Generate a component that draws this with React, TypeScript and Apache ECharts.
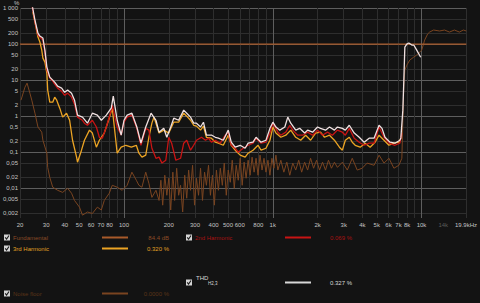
import React, { useEffect, useRef } from "react";
import * as echarts from "echarts";

// ---- axis ticks / labels ----
const xLabelValues = [20, 30, 40, 50, 60, 70, 80, 100, 200, 300, 400, 500, 600, 800, 1000, 2000, 3000, 4000, 5000, 6000, 7000, 8000, 10000, 14000, 19900];
const xLabelTexts = ["20", "30", "40", "50", "60", "70", "80", "100", "200", "300", "400", "500", "600", "800", "1k", "2k", "3k", "4k", "5k", "6k", "7k", "8k", "10k", "14k", "19.9kHz"];
const xMinorGrid = [20, 30, 40, 50, 60, 70, 80, 90, 200, 300, 400, 500, 600, 700, 800, 900, 2000, 3000, 4000, 5000, 6000, 7000, 8000, 9000, 20000];
const xMajorGrid = [100, 1000, 10000];
const yLabelValues = [1000, 500, 200, 100, 50, 20, 10, 5, 2, 1, 0.5, 0.2, 0.1, 0.05, 0.02, 0.01, 0.005, 0.002];
const yLabelTexts = ["1 000", "500", "200", "100", "50", "20", "10", "5", "2", "1", "0,5", "0,2", "0,1", "0,05", "0,02", "0,01", "0,005", "0,002"];
const yMinorGrid = [500, 200, 50, 20, 5, 2, 0.5, 0.2, 0.05, 0.02, 0.005, 0.002];
const yMajorGrid = [1000, 100, 10, 1, 0.1, 0.01];

// ---- series (frequency Hz, %) ----
const fundamentalData: [number, number][] = [[20, 100], [20000, 100]];

const thdData: [number, number][] = [
  [24.0, 1400], [24.4, 938], [25.2, 464], [26.4, 202], [27.2, 167], [28.5, 147], [29.4, 68], [30.3, 23], [31.7, 12.1], [33.2, 10],
  [34.2, 8.8], [35.8, 6.8], [38.1, 6.0], [39.9, 4.6], [41.8, 5.3], [44.4, 4.35], [46.5, 2.78], [48.7, 1.07], [52.6, 0.94], [56.8, 0.64],
  [61.3, 1.21], [66.2, 1.07], [70.4, 0.77], [76.0, 1.07], [82.1, 1.67], [84.7, 3.6], [90.0, 0.77], [95.7, 0.30], [100, 0.77], [105, 1.07],
  [113, 1.21], [122, 0.50], [130, 0.18], [140, 0.50], [152, 1.21], [164, 0.77], [172, 0.36], [185, 0.46], [194, 0.26], [206, 0.50],
  [216, 0.88], [233, 0.77], [252, 1.47], [264, 1.21], [280, 0.94], [294, 0.64], [307, 0.64], [327, 0.50], [342, 0.68], [358, 0.30],
  [387, 0.30], [411, 0.26], [431, 0.245], [465, 0.215], [502, 0.41], [526, 0.19], [559, 0.138], [604, 0.156], [652, 0.129], [683, 0.178],
  [737, 0.19], [772, 0.26], [834, 0.19], [900, 0.215], [957, 0.46], [1002, 0.68], [1050, 0.50], [1116, 0.41], [1205, 0.50], [1262, 0.94],
  [1321, 0.64], [1427, 0.41], [1517, 0.46], [1638, 0.34], [1715, 0.41], [1852, 0.36], [2000, 0.50], [2094, 0.46], [2262, 0.41], [2405, 0.50],
  [2597, 0.41], [2720, 0.50], [2937, 0.46], [3074, 0.41], [3268, 0.56], [3529, 0.34], [3811, 0.26], [4113, 0.19], [4443, 0.245], [4797, 0.245],
  [5181, 0.56], [5424, 0.46], [5680, 0.26], [6134, 0.19], [6622, 0.178], [7152, 0.215], [7262, 0.25], [7488, 1.47], [7604, 10], [7722, 82],
  [7962, 100], [8212, 107], [8603, 94], [8868, 94], [9283, 68], [9868, 43]
];

const h2Data: [number, number][] = [
  [24.0, 1210], [24.4, 880], [25.2, 408], [26.4, 178], [27.2, 156], [28.5, 129], [29.4, 60], [30.3, 19], [31.7, 11.4], [33.2, 9.4],
  [34.2, 7.7], [35.8, 6.0], [38.1, 4.9], [39.9, 3.8], [41.8, 4.35], [44.4, 3.37], [46.5, 2.15], [48.7, 0.94], [52.6, 0.77], [54.2, 0.64],
  [56.8, 0.56], [61.3, 0.77], [65.2, 0.50], [68.3, 0.26], [71.5, 0.245], [76.0, 0.50], [82.1, 1.47], [83.4, 2.02], [90.0, 0.50], [95.7, 0.30],
  [100, 0.68], [105, 0.94], [113, 1.07], [122, 0.46], [130, 0.156], [140, 0.46], [147, 0.41], [154, 0.129], [164, 0.068], [172, 0.073],
  [180, 0.050], [191, 0.060], [200, 0.26], [209, 0.178], [223, 0.060], [240, 0.068], [252, 0.178], [264, 0.215], [280, 0.114], [294, 0.156],
  [307, 0.215], [332, 0.26], [353, 0.215], [370, 0.245], [387, 0.19], [411, 0.215], [444, 0.178], [480, 0.297], [502, 0.36], [526, 0.156],
  [559, 0.129], [586, 0.10], [632, 0.129], [683, 0.156], [737, 0.178], [772, 0.245], [834, 0.178], [900, 0.19], [957, 0.34], [1002, 0.64],
  [1082, 0.36], [1133, 0.297], [1224, 0.36], [1301, 0.56], [1363, 0.41], [1471, 0.297], [1589, 0.297], [1715, 0.36], [1852, 0.297], [2000, 0.41],
  [2160, 0.297], [2333, 0.36], [2518, 0.297], [2720, 0.41], [2937, 0.36], [3074, 0.297], [3268, 0.46], [3529, 0.245], [3811, 0.19], [4113, 0.156],
  [4443, 0.178], [4797, 0.178], [5181, 0.50], [5594, 0.26], [6040, 0.178], [6622, 0.156], [7152, 0.178], [7374, 0.34]
];

const h3Data: [number, number][] = [
  [24.4, 774], [25.2, 408], [26.0, 215], [26.4, 156], [27.2, 114], [28.0, 68], [28.5, 40.8], [29.4, 31.6], [30.3, 15.6], [30.7, 5.3],
  [31.7, 2.45], [33.2, 2.45], [34.2, 3.37], [35.3, 2.78], [37.0, 1.67], [38.7, 0.94], [41.1, 1.21], [43.1, 0.77], [45.1, 0.215], [48.0, 0.073],
  [48.7, 0.053], [51.8, 0.114], [54.2, 0.215], [58.6, 0.41], [61.3, 0.34], [65.2, 0.138], [68.3, 0.215], [73.7, 0.34], [79.6, 0.88], [83.4, 1.67],
  [90.0, 0.094], [95.7, 0.138], [103, 0.156], [112, 0.138], [121, 0.156], [126, 0.094], [132, 0.073], [140, 0.083], [147, 0.26], [154, 0.64],
  [159, 0.94], [172, 0.34], [185, 0.41], [200, 0.34], [216, 0.68], [233, 0.68], [252, 1.21], [264, 1.0], [280, 0.77], [294, 0.56],
  [307, 0.53], [327, 0.41], [342, 0.53], [358, 0.26], [387, 0.245], [411, 0.19], [431, 0.178], [465, 0.156], [502, 0.297], [526, 0.156],
  [559, 0.114], [604, 0.083], [652, 0.073], [683, 0.094], [737, 0.114], [796, 0.156], [834, 0.114], [900, 0.129], [957, 0.215], [1002, 0.50],
  [1050, 0.34], [1133, 0.26], [1224, 0.297], [1321, 0.41], [1427, 0.26], [1541, 0.215], [1664, 0.297], [1796, 0.215], [1940, 0.34], [2094, 0.36],
  [2227, 0.26], [2405, 0.297], [2597, 0.215], [2805, 0.138], [2937, 0.114], [3074, 0.215], [3268, 0.26], [3422, 0.19], [3584, 0.156], [3869, 0.138],
  [4178, 0.178], [4512, 0.138], [4871, 0.19], [5181, 0.297], [5594, 0.215], [6040, 0.156], [6522, 0.178], [7043, 0.19], [7262, 0.245]
];

const noiseData: [number, number][] = [
  [20.3, 2.78], [21.6, 6.4], [22.3, 8.25], [23.3, 4.35], [24.0, 2.78], [25.2, 1.21], [26.4, 0.50], [28.0, 0.36], [28.5, 0.215], [30.3, 0.094],
  [30.7, 0.038], [31.7, 0.020], [33.2, 0.0107], [35.8, 0.0088], [38.7, 0.0077], [41.8, 0.010], [44.4, 0.0073], [46.5, 0.0046], [50.2, 0.0030], [52.6, 0.0018],
  [56.8, 0.0022], [61.3, 0.0020], [66.2, 0.0030], [70.4, 0.0025], [73.7, 0.0046], [79.6, 0.0073], [83.4, 0.0121], [90.0, 0.0107], [97.2, 0.0088], [105, 0.0121],
  [113, 0.028], [121, 0.0167], [126, 0.0121], [132, 0.0107], [140, 0.028], [147, 0.0138], [154, 0.0056], [164, 0.0088], [172, 0.0046], [177, 0.0167],
  [182, 0.0034], [188, 0.023], [194, 0.0064], [200, 0.019], [206, 0.0025], [213, 0.028], [219, 0.0046], [226, 0.036], [233, 0.0064], [240, 0.0121],
  [248, 0.0022], [256, 0.023], [264, 0.0053], [272, 0.032], [280, 0.0088], [289, 0.0435], [298, 0.0034], [307, 0.019], [317, 0.0064], [327, 0.036],
  [337, 0.0046], [348, 0.028], [358, 0.0121], [370, 0.0435], [381, 0.0064], [393, 0.023], [405, 0.0034], [418, 0.032], [431, 0.0088], [444, 0.036],
  [458, 0.0121], [472, 0.050], [487, 0.0064], [502, 0.032], [518, 0.0147], [534, 0.060], [551, 0.010], [568, 0.0435], [586, 0.0167], [604, 0.068],
  [623, 0.0121], [642, 0.053], [662, 0.019], [683, 0.060], [704, 0.023], [726, 0.073], [749, 0.028], [772, 0.068], [796, 0.023], [821, 0.083],
  [847, 0.032], [873, 0.068], [900, 0.028], [928, 0.060], [957, 0.023], [987, 0.068], [1018, 0.036], [1050, 0.083], [1082, 0.032], [1133, 0.060],
  [1187, 0.028], [1243, 0.053], [1301, 0.023], [1363, 0.050], [1427, 0.032], [1494, 0.060], [1564, 0.028], [1638, 0.053], [1715, 0.032], [1796, 0.068],
  [1881, 0.036], [1969, 0.060], [2062, 0.032], [2160, 0.053], [2262, 0.032], [2368, 0.060], [2480, 0.036], [2597, 0.053], [2720, 0.038], [2937, 0.053],
  [3170, 0.032], [3422, 0.068], [3696, 0.032], [3990, 0.036], [4309, 0.050], [4797, 0.0435], [5181, 0.083], [5594, 0.050], [6040, 0.068], [6522, 0.036],
  [7043, 0.0435], [7374, 0.068], [7488, 0.77], [7604, 7.3], [7722, 19], [7962, 26], [8338, 36], [8868, 43.5], [9283, 49.5], [10024, 68],
  [10496, 129], [10990, 190], [11335, 215], [12052, 245], [13213, 230], [14268, 245], [15406, 215], [16636, 245], [17964, 215], [19099, 245], [20000, 230]
];

// ---- legend ----
const legendNames = ["Fundamental", "2nd Harmonic", "3rd Harmonic", "THD", "Noise floor"];
const legendValues = ["84.4 dB", "0.069 %", "0.320 %", "0.327 %", "0.0000 %"];

const COLORS = {
  bg: "#131313",
  fund: "#a85a2a",
  thd: "#efe0e0",
  h2: "#c81414",
  h3: "#eca424",
  noise: "#7a4420",
  minor: "#2e2e2e",
  major: "#5e5e5e",
  label: "#c4c4c4",
};

function findLabel(v: number, vals: number[], texts: string[]) {
  for (let i = 0; i < vals.length; i++) {
    if (Math.abs(Math.log10(v) - Math.log10(vals[i])) < 0.004) return texts[i];
  }
  return "";
}

export default function App() {
  const ref = useRef<HTMLDivElement>(null);
  useEffect(() => {
    if (!ref.current) return;
    const chart = echarts.init(ref.current, null, { renderer: "svg" });
    const font = "Liberation Sans, Arial, sans-serif";

    const legendItems = [
      { x: 4, y: 237.5, color: COLORS.fund, text: "#8a4a26", line: 102, valRight: 169 },
      { x: 186, y: 237.5, color: COLORS.h2, text: "#a81212", line: 285, valRight: 352 },
      { x: 4, y: 248.5, color: COLORS.h3, text: "#e0a024", line: 102, valRight: 169 },
      { x: 186, y: 282.5, color: "#d8d8d8", text: "#d8d8d8", line: 285, valRight: 352 },
      { x: 4, y: 293.5, color: COLORS.noise, text: "#5c3418", line: 102, valRight: 169 },
    ];

    const graphics: any[] = [
      { type: "text", left: 14, top: 0, style: { text: "%", fill: COLORS.label, font: `6px ${font}` } },
    ];
    legendItems.forEach((it, i) => {
      graphics.push({ type: "rect", shape: { x: it.x, y: it.y - 3, width: 6, height: 6 }, style: { fill: "#d4d4d4" } });
      graphics.push({ type: "polyline", shape: { points: [[it.x + 1.2, it.y - 0.2], [it.x + 2.6, it.y + 1.6], [it.x + 5, it.y - 2]] }, style: { stroke: "#1a1a1a", lineWidth: 1.1, fill: "none" } });
      if (legendNames[i] === "THD") {
        graphics.push({ type: "text", x: it.x + 10, y: it.y - 5, style: { text: "THD", fill: it.text, font: `6px ${font}`, verticalAlign: "middle" } });
        graphics.push({ type: "text", x: it.x + 22, y: it.y + 1, style: { text: "H2,3", fill: it.text, font: `4.5px ${font}`, verticalAlign: "middle" } });
      } else {
        graphics.push({ type: "text", x: it.x + 9, y: it.y, style: { text: legendNames[i], fill: it.text, font: `6px ${font}`, verticalAlign: "middle" } });
      }
      graphics.push({ type: "line", shape: { x1: it.line, y1: it.y, x2: it.line + 26, y2: it.y }, style: { stroke: it.color, lineWidth: 2 } });
      graphics.push({ type: "text", x: it.valRight, y: it.y, style: { text: legendValues[i], fill: it.text, font: `6px ${font}`, align: "right", verticalAlign: "middle" } });
    });

    const xBase = { type: "log", min: 20, max: 20000, logBase: 10, axisLine: { show: false } };
    const yBase = { type: "log", min: 0.0015, max: 1000, logBase: 10, axisLine: { show: false } };

    const line = (name: string, data: [number, number][], color: string, width: number, z: number) => ({
      name, type: "line", data, showSymbol: false, symbol: "none", clip: true, z,
      lineStyle: { color, width }, silent: true,
    });

    chart.setOption({
      animation: false,
      backgroundColor: COLORS.bg,
      grid: { left: 20, right: 10, top: 8, bottom: 85 },
      xAxis: [
        {
          ...xBase,
          axisTick: { show: false, customValues: xMinorGrid },
          splitLine: { show: true, lineStyle: { color: COLORS.minor, width: 1 } },
          axisLabel: {
            customValues: xLabelValues,
            color: COLORS.label,
            fontSize: 6,
            fontFamily: font,
            margin: 4,
            formatter: (v: number) => {
              const t = findLabel(v, xLabelValues, xLabelTexts);
              return t === "14k" ? "{dim|14k}" : t;
            },
            rich: { dim: { color: "#5a5a5a", fontSize: 6, fontFamily: font } },
          },
        },
        {
          ...xBase,
          axisTick: { show: false, customValues: xMajorGrid },
          splitLine: { show: true, lineStyle: { color: COLORS.major, width: 1 } },
          axisLabel: { show: false },
        },
      ],
      yAxis: [
        {
          ...yBase,
          axisTick: { show: false, customValues: yMinorGrid },
          splitLine: { show: true, lineStyle: { color: COLORS.minor, width: 1 } },
          axisLabel: {
            customValues: yLabelValues,
            color: COLORS.label,
            fontSize: 6,
            fontFamily: font,
            margin: 2,
            formatter: (v: number) => findLabel(v, yLabelValues, yLabelTexts),
          },
        },
        {
          ...yBase,
          axisTick: { show: false, customValues: yMajorGrid },
          splitLine: { show: true, lineStyle: { color: COLORS.major, width: 1 } },
          axisLabel: { show: false },
        },
      ],
      series: [
        line("Noise floor", noiseData, COLORS.noise, 1, 2),
        line("Fundamental", fundamentalData, COLORS.fund, 1.3, 3),
        line("3rd Harmonic", h3Data, COLORS.h3, 1.3, 4),
        line("2nd Harmonic", h2Data, COLORS.h2, 1.3, 5),
        line("THD", thdData, COLORS.thd, 1.3, 6),
      ],
      graphic: graphics,
    });
    return () => chart.dispose();
  }, []);
  return <div ref={ref} style={{ position: "fixed", left: 0, top: 0, width: 480, height: 303 }} />;
}
